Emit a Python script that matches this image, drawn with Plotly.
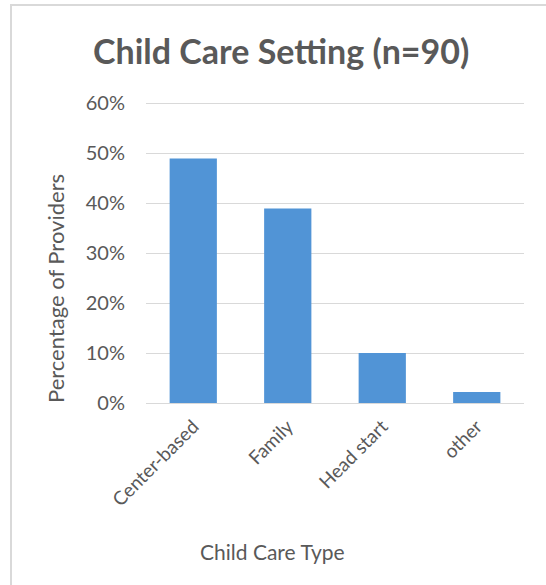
import plotly.graph_objects as go

# Share of providers by child care setting (n=90)
categories = ["Center-based", "Family", "Head start", "other"]
shares = [0.489, 0.389, 0.100, 0.022]
y_ticks = [0, 0.1, 0.2, 0.3, 0.4, 0.5, 0.6]
y_tick_labels = ["0%", "10%", "20%", "30%", "40%", "50%", "60%"]

W, H = 546, 585
FONT = "Lato"
GRAY = "#595959"
GRID = "#D9D9D9"

# vertical scale: 500 px per 100%, baseline at y=403 px
Y_MAX = 0.61
Y_BASE_PX = 403
PX_PER_UNIT = 500


def px_x(x):
    return x / W


def px_y(y):
    return 1 - y / H


fig = go.Figure(
    go.Bar(
        x=categories,
        y=shares,
        marker=dict(color="#5194D6", line=dict(width=0)),
        hoverinfo="x+y",
    )
)

fig.update_layout(
    width=W,
    height=H,
    margin=dict(l=0, r=0, t=0, b=0, pad=0),
    paper_bgcolor="white",
    plot_bgcolor="white",
    bargap=0.5,
    showlegend=False,
    font=dict(family=FONT, color=GRAY),
    xaxis=dict(
        domain=[px_x(146), px_x(524)],
        automargin=False,
        tickangle=-45,
        tickfont=dict(size=19, color=GRAY),
        showgrid=False,
        showline=True,
        linecolor=GRID,
        linewidth=1,
        ticks="",
        ticklabelstandoff=4,
    ),
    yaxis=dict(
        domain=[px_y(Y_BASE_PX), px_y(Y_BASE_PX - Y_MAX * PX_PER_UNIT)],
        automargin=False,
        range=[0, Y_MAX],
        tickvals=y_ticks,
        ticktext=y_tick_labels,
        tickfont=dict(size=20, color=GRAY),
        showgrid=True,
        gridcolor=GRID,
        gridwidth=1,
        zeroline=False,
        showline=False,
        ticks="",
        ticklabelstandoff=20,
    ),
    annotations=[
        dict(
            text="<b>Child Care Setting (n=90)</b>",
            x=px_x(281), y=px_y(50), xref="paper", yref="paper",
            showarrow=False, font=dict(size=34, color=GRAY, family=FONT),
            xanchor="center", yanchor="middle",
        ),
        dict(
            text="Percentage of Providers",
            x=px_x(55), y=px_y(289), xref="paper", yref="paper",
            showarrow=False, textangle=-90, font=dict(size=22, color=GRAY, family=FONT),
            xanchor="center", yanchor="middle",
        ),
        dict(
            text="Child Care Type",
            x=px_x(272), y=px_y(551), xref="paper", yref="paper",
            showarrow=False, font=dict(size=21, color=GRAY, family=FONT),
            xanchor="center", yanchor="middle",
        ),
    ],
    shapes=[
        dict(type="line", xref="paper", yref="paper",
             x0=px_x(10), x1=1, y0=px_y(5), y1=px_y(5),
             line=dict(color=GRID, width=2)),
        dict(type="line", xref="paper", yref="paper",
             x0=px_x(11), x1=px_x(11), y0=0, y1=px_y(5),
             line=dict(color=GRID, width=2)),
    ],
)

fig.write_html("out.html")
